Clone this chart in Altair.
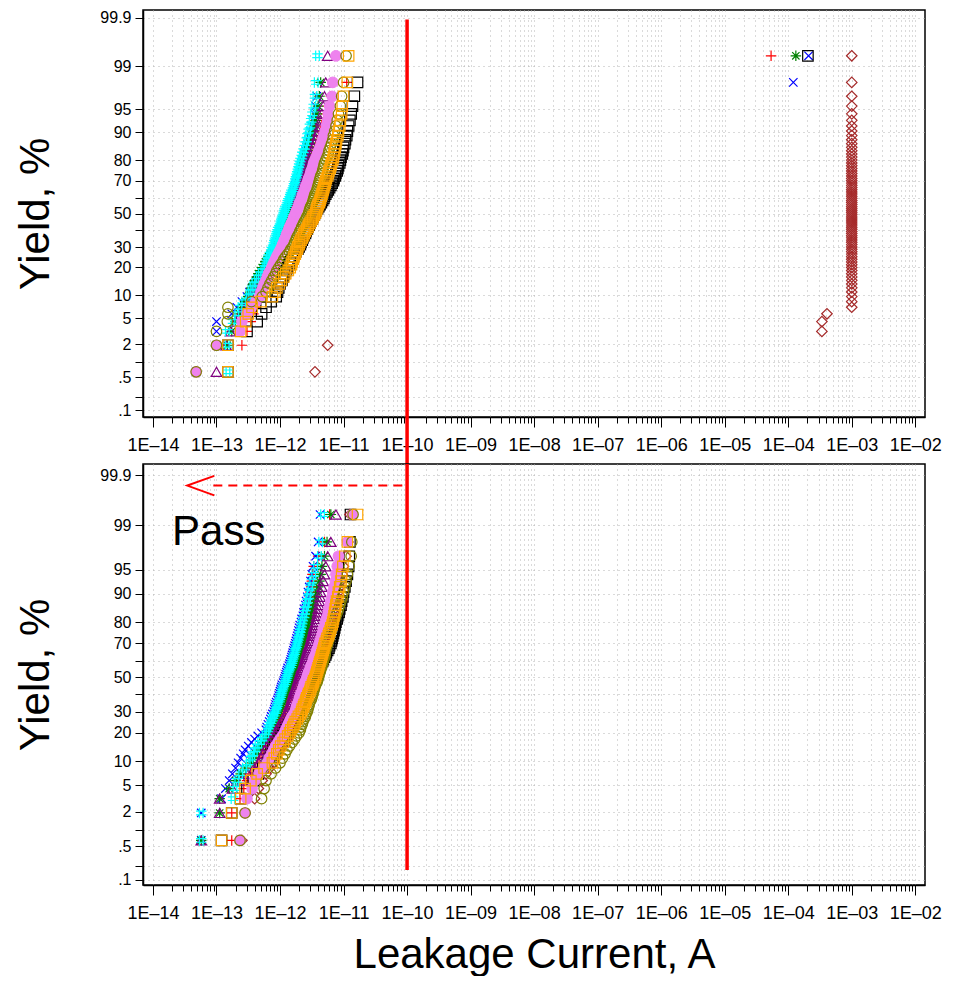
import altair as alt
import pandas as pd
from statistics import NormalDist

# ---------------- data: log10(leakage current, A), sorted per device group ----------------
# top panel
T_PLUS = [-13.32, -12.60, -12.52, -12.46, -12.42, -12.38, -12.34, -12.30,
          -12.27, -12.25, -12.22, -12.20, -12.17, -12.15, -12.12, -12.10,
          -12.08, -12.06, -12.04, -12.02, -12.01, -11.99, -11.97, -11.95,
          -11.94, -11.93, -11.92, -11.91, -11.90, -11.89, -11.88, -11.87, -11.87, -11.86, -11.85, -11.84, -11.83, -11.82, -11.81, -11.80,
          -11.79, -11.78, -11.76, -11.75, -11.74, -11.73, -11.72, -11.70, -11.69, -11.68, -11.67, -11.66, -11.64, -11.63, -11.62,
          -11.61, -11.60, -11.58, -11.57, -11.56, -11.55, -11.54, -11.52,
          -11.50, -11.48, -11.46, -11.44, -11.42, -11.40, -11.38, -11.36,
          -11.34, -11.31, -11.28, -11.25, -11.20, -10.95, -4.27]
T_X = [-13.32, -13.00, -13.00, -13.00, -12.76, -12.68, -12.60, -12.52,
       -12.48, -12.44, -12.40, -12.36, -12.32, -12.28, -12.24, -12.20,
       -12.18, -12.16, -12.15, -12.13, -12.11, -12.09, -12.08, -12.06,
       -12.05, -12.04, -12.03, -12.02, -12.01, -12.00, -11.99, -11.98, -11.97, -11.96, -11.95, -11.94, -11.93, -11.92, -11.91, -11.90,
       -11.89, -11.88, -11.87, -11.85, -11.84, -11.83, -11.82, -11.81, -11.80, -11.79, -11.78, -11.77, -11.76, -11.75, -11.73,
       -11.72, -11.71, -11.70, -11.69, -11.68, -11.67, -11.66, -11.64,
       -11.63, -11.61, -11.60, -11.58, -11.57, -11.55, -11.54, -11.52,
       -11.50, -11.48, -11.46, -11.44, -11.42, -3.92, -3.68]
T_STAR = [-13.32, -12.83, -12.76, -12.70, -12.64, -12.60, -12.55, -12.50,
          -12.47, -12.45, -12.42, -12.39, -12.36, -12.34, -12.31, -12.28,
          -12.25, -12.23, -12.20, -12.18, -12.15, -12.13, -12.10, -12.08,
          -12.07, -12.06, -12.04, -12.03, -12.02, -12.00, -11.99, -11.98, -11.97, -11.95, -11.94, -11.93, -11.92, -11.90, -11.89, -11.88,
          -11.87, -11.86, -11.84, -11.83, -11.82, -11.81, -11.80, -11.78, -11.77, -11.76, -11.75, -11.74, -11.72, -11.71, -11.70,
          -11.69, -11.68, -11.67, -11.66, -11.65, -11.64, -11.63, -11.62,
          -11.60, -11.58, -11.57, -11.55, -11.53, -11.51, -11.50, -11.48,
          -11.46, -11.44, -11.42, -11.40, -11.38, -11.36, -3.88]
T_SQUARE = [-12.82, -12.82, -12.52, -12.36, -12.29, -12.22, -12.14, -12.06,
            -12.04, -12.02, -12.00, -11.97, -11.95, -11.93, -11.90, -11.88,
            -11.86, -11.84, -11.81, -11.79, -11.77, -11.75, -11.72, -11.70,
            -11.68, -11.67, -11.65, -11.64, -11.62, -11.60, -11.59, -11.57, -11.56, -11.54, -11.53, -11.51, -11.49, -11.48, -11.46, -11.45,
            -11.43, -11.41, -11.39, -11.37, -11.35, -11.33, -11.31, -11.30, -11.28, -11.26, -11.24, -11.22, -11.20, -11.18, -11.16,
            -11.15, -11.13, -11.12, -11.10, -11.09, -11.08, -11.06, -11.05,
            -11.04, -11.02, -11.01, -11.00, -10.98, -10.97, -10.95, -10.94,
            -10.92, -10.90, -10.88, -10.86, -10.83, -10.78, -3.69]
T_DIAMOND = [-11.45, -11.25, -3.47, -3.47, -3.39,
             -3.00, -3.00, -3.00, -3.00, -3.00, -3.00, -3.00, -3.00, -3.00, -3.00,
             -3.00, -3.00, -3.00, -3.00, -3.00, -3.00, -3.00, -3.00, -3.00, -3.00,
             -3.00, -3.00, -3.00, -3.00, -3.00, -3.00, -3.00, -3.00, -3.00, -3.00,
             -3.00, -3.00, -3.00, -3.00, -3.00, -3.00, -3.00, -3.00, -3.00, -3.00,
             -3.00, -3.00, -3.00, -3.00, -3.00, -3.00, -3.00, -3.00, -3.00, -3.00,
             -3.00, -3.00, -3.00, -3.00, -3.00, -3.00, -3.00, -3.00, -3.00, -3.00,
             -3.00, -3.00, -3.00, -3.00, -3.00, -3.00, -3.00, -3.00, -3.00, -3.00,
             -3.00, -3.00, -3.00]
T_TRI = [-13.00, -12.85, -12.78, -12.70, -12.62, -12.56, -12.50, -12.45,
         -12.42, -12.39, -12.36, -12.33, -12.29, -12.26, -12.23, -12.20,
         -12.18, -12.16, -12.13, -12.11, -12.09, -12.07, -12.04, -12.02,
         -12.00, -11.99, -11.97, -11.96, -11.94, -11.93, -11.91, -11.90, -11.88, -11.87, -11.85, -11.84, -11.82, -11.81, -11.79, -11.78,
         -11.77, -11.76, -11.75, -11.74, -11.73, -11.72, -11.72, -11.71, -11.70, -11.69, -11.68, -11.67, -11.66, -11.65, -11.64,
         -11.63, -11.62, -11.61, -11.60, -11.59, -11.58, -11.57, -11.56,
         -11.54, -11.52, -11.50, -11.48, -11.46, -11.44, -11.42, -11.40,
         -11.38, -11.36, -11.34, -11.32, -11.30, -11.28, -11.25]
T_HASH = [-12.82, -12.83, -12.83, -12.74, -12.68, -12.63, -12.57, -12.50,
          -12.47, -12.44, -12.41, -12.37, -12.34, -12.31, -12.27, -12.24,
          -12.22, -12.21, -12.19, -12.18, -12.16, -12.14, -12.13, -12.11,
          -12.10, -12.09, -12.08, -12.07, -12.06, -12.05, -12.04, -12.03, -12.01, -12.00, -11.99, -11.98, -11.97, -11.96, -11.95, -11.94,
          -11.93, -11.92, -11.90, -11.89, -11.88, -11.87, -11.85, -11.84, -11.83, -11.82, -11.80, -11.79, -11.78, -11.77, -11.76,
          -11.75, -11.74, -11.73, -11.72, -11.71, -11.70, -11.69, -11.68,
          -11.66, -11.65, -11.63, -11.61, -11.60, -11.58, -11.57, -11.55,
          -11.53, -11.51, -11.49, -11.47, -11.45, -11.43, -11.41]
T_DOT = [-13.32, -13.00, -12.63, -12.60, -12.52, -12.45, -12.38, -12.32,
         -12.30, -12.27, -12.25, -12.22, -12.20, -12.18, -12.15, -12.13,
         -12.11, -12.09, -12.07, -12.05, -12.03, -12.01, -11.99, -11.97,
         -11.96, -11.94, -11.93, -11.91, -11.90, -11.89, -11.87, -11.86, -11.85, -11.83, -11.82, -11.80, -11.79, -11.78, -11.76, -11.75,
         -11.74, -11.72, -11.71, -11.70, -11.69, -11.67, -11.66, -11.65, -11.64, -11.62, -11.61, -11.60, -11.59, -11.57, -11.56,
         -11.55, -11.53, -11.52, -11.51, -11.49, -11.48, -11.47, -11.45,
         -11.43, -11.41, -11.39, -11.37, -11.35, -11.33, -11.31, -11.29,
         -11.27, -11.25, -11.24, -11.22, -11.18, -11.17, -11.12]
T_CIRCLE = [-13.32, -13.00, -13.00, -12.83, -12.82, -12.82, -12.45, -12.28,
            -12.22, -12.19, -12.16, -12.13, -12.10, -12.07, -12.05, -12.02,
            -11.99, -11.96, -11.94, -11.91, -11.88, -11.85, -11.83, -11.80,
            -11.78, -11.77, -11.75, -11.74, -11.72, -11.70, -11.69, -11.67, -11.66, -11.64, -11.63, -11.61, -11.59, -11.58, -11.56, -11.55,
            -11.54, -11.53, -11.52, -11.50, -11.49, -11.48, -11.47, -11.46, -11.45, -11.43, -11.42, -11.41, -11.40, -11.39, -11.38,
            -11.37, -11.36, -11.34, -11.33, -11.32, -11.31, -11.30, -11.28,
            -11.26, -11.24, -11.23, -11.21, -11.19, -11.17, -11.16, -11.14,
            -11.12, -11.10, -11.08, -11.05, -11.03, -11.00, -10.96]
T_SQUARE2 = [-12.82, -12.82, -12.62, -12.54, -12.50, -12.44, -12.30, -12.12,
             -12.08, -12.05, -12.01, -11.98, -11.94, -11.91, -11.87, -11.84,
             -11.82, -11.81, -11.79, -11.78, -11.76, -11.75, -11.73, -11.72,
             -11.70, -11.69, -11.67, -11.65, -11.63, -11.62, -11.60, -11.58, -11.56, -11.55, -11.53, -11.51, -11.49, -11.48, -11.46, -11.44,
             -11.43, -11.42, -11.41, -11.40, -11.38, -11.37, -11.36, -11.35, -11.34, -11.33, -11.32, -11.31, -11.30, -11.29, -11.28,
             -11.27, -11.25, -11.24, -11.23, -11.21, -11.20, -11.19, -11.17,
             -11.16, -11.15, -11.14, -11.13, -11.12, -11.11, -11.09, -11.08,
             -11.06, -11.05, -11.03, -11.02, -11.00, -10.94, -10.92]

# bottom panel
B_PLUS = [-12.76, -12.76, -12.63, -12.57, -12.52, -12.46, -12.41, -12.36,
          -12.33, -12.30, -12.27, -12.23, -12.20, -12.17, -12.13, -12.10,
          -12.08, -12.06, -12.03, -12.01, -11.99, -11.97, -11.94, -11.92,
          -11.91, -11.90, -11.89, -11.88, -11.87, -11.87, -11.86, -11.85, -11.84, -11.83, -11.82, -11.82, -11.81, -11.80, -11.79, -11.78,
          -11.77, -11.76, -11.75, -11.74, -11.73, -11.72, -11.72, -11.71, -11.70, -11.69, -11.68, -11.67, -11.66, -11.65, -11.64,
          -11.63, -11.62, -11.62, -11.61, -11.60, -11.60, -11.59, -11.58,
          -11.57, -11.57, -11.56, -11.55, -11.55, -11.54, -11.53, -11.52,
          -11.51, -11.50, -11.49, -11.47, -11.40, -11.30, -11.22]
B_X = [-13.24, -13.24, -12.92, -12.86, -12.80, -12.75, -12.70, -12.66,
       -12.62, -12.58, -12.55, -12.50, -12.45, -12.40, -12.35, -12.29,
       -12.22, -12.21, -12.19, -12.17, -12.15, -12.14, -12.12, -12.10,
       -12.09, -12.08, -12.07, -12.06, -12.04, -12.03, -12.02, -12.01, -12.00, -11.99, -11.98, -11.97, -11.95, -11.94, -11.93, -11.92,
       -11.91, -11.90, -11.89, -11.88, -11.86, -11.85, -11.84, -11.83, -11.82, -11.81, -11.80, -11.79, -11.78, -11.77, -11.76,
       -11.75, -11.74, -11.73, -11.72, -11.71, -11.70, -11.69, -11.67,
       -11.66, -11.64, -11.63, -11.62, -11.60, -11.59, -11.57, -11.56,
       -11.54, -11.52, -11.50, -11.48, -11.44, -11.40, -11.37]
B_STAR = [-13.24, -12.95, -12.95, -12.80, -12.70, -12.62, -12.54, -12.46,
          -12.42, -12.38, -12.34, -12.30, -12.27, -12.23, -12.19, -12.15,
          -12.13, -12.11, -12.09, -12.08, -12.06, -12.04, -12.02, -12.00,
          -11.99, -11.97, -11.96, -11.95, -11.94, -11.92, -11.91, -11.90, -11.89, -11.87, -11.86, -11.85, -11.84, -11.82, -11.81, -11.80,
          -11.79, -11.78, -11.77, -11.76, -11.74, -11.73, -11.72, -11.71, -11.70, -11.69, -11.68, -11.67, -11.66, -11.65, -11.63,
          -11.62, -11.61, -11.60, -11.59, -11.58, -11.57, -11.56, -11.55,
          -11.53, -11.52, -11.50, -11.49, -11.47, -11.45, -11.44, -11.42,
          -11.40, -11.38, -11.36, -11.34, -11.30, -11.26, -11.20]
B_SQUARE = [-12.92, -12.76, -12.62, -12.52, -12.42, -12.34, -12.27, -12.20,
            -12.17, -12.14, -12.11, -12.08, -12.04, -12.01, -11.98, -11.95,
            -11.92, -11.90, -11.87, -11.85, -11.82, -11.80, -11.77, -11.75,
            -11.73, -11.71, -11.69, -11.68, -11.66, -11.64, -11.62, -11.60, -11.58, -11.56, -11.54, -11.53, -11.51, -11.49, -11.47, -11.45,
            -11.43, -11.42, -11.40, -11.38, -11.37, -11.35, -11.33, -11.32, -11.30, -11.28, -11.27, -11.25, -11.23, -11.22, -11.20,
            -11.19, -11.18, -11.17, -11.16, -11.15, -11.14, -11.13, -11.12,
            -11.10, -11.09, -11.07, -11.06, -11.04, -11.03, -11.01, -11.00,
            -10.98, -10.96, -10.94, -10.92, -10.91, -10.90, -10.89]
B_DIAMOND = [-12.60, -12.55, -12.40, -12.34, -12.28, -12.22, -12.16, -12.10,
             -12.07, -12.03, -12.00, -11.96, -11.93, -11.89, -11.86, -11.82,
             -11.80, -11.78, -11.76, -11.74, -11.72, -11.70, -11.68, -11.66,
             -11.65, -11.64, -11.63, -11.61, -11.60, -11.59, -11.58, -11.57, -11.56, -11.55, -11.53, -11.52, -11.51, -11.50, -11.49, -11.48,
             -11.47, -11.46, -11.44, -11.43, -11.42, -11.41, -11.40, -11.38, -11.37, -11.36, -11.35, -11.34, -11.32, -11.31, -11.30,
             -11.29, -11.28, -11.27, -11.25, -11.24, -11.23, -11.22, -11.20,
             -11.19, -11.17, -11.16, -11.14, -11.13, -11.11, -11.10, -11.08,
             -11.06, -11.04, -11.02, -11.00, -10.96, -10.93, -10.90]
B_TRI = [-13.24, -12.95, -12.95, -12.75, -12.60, -12.50, -12.41, -12.33,
         -12.30, -12.27, -12.24, -12.21, -12.17, -12.14, -12.11, -12.08,
         -12.05, -12.03, -12.00, -11.98, -11.95, -11.93, -11.90, -11.88,
         -11.87, -11.86, -11.85, -11.83, -11.82, -11.81, -11.80, -11.79, -11.78, -11.77, -11.75, -11.74, -11.73, -11.72, -11.71, -11.70,
         -11.69, -11.68, -11.67, -11.66, -11.64, -11.63, -11.62, -11.61, -11.60, -11.59, -11.58, -11.57, -11.56, -11.55, -11.53,
         -11.52, -11.51, -11.50, -11.49, -11.48, -11.47, -11.46, -11.44,
         -11.43, -11.42, -11.41, -11.40, -11.39, -11.38, -11.37, -11.36,
         -11.34, -11.32, -11.30, -11.28, -11.25, -11.20, -11.12]
B_HASH = [-13.24, -13.24, -12.74, -12.71, -12.68, -12.62, -12.56, -12.50,
          -12.46, -12.43, -12.39, -12.36, -12.32, -12.28, -12.25, -12.21,
          -12.19, -12.18, -12.16, -12.14, -12.12, -12.11, -12.09, -12.07,
          -12.06, -12.05, -12.04, -12.03, -12.01, -12.00, -11.99, -11.98, -11.97, -11.96, -11.95, -11.94, -11.92, -11.91, -11.90, -11.89,
          -11.88, -11.87, -11.86, -11.85, -11.83, -11.82, -11.81, -11.80, -11.79, -11.78, -11.77, -11.76, -11.75, -11.74, -11.73,
          -11.72, -11.71, -11.70, -11.69, -11.68, -11.67, -11.66, -11.65,
          -11.64, -11.62, -11.61, -11.60, -11.58, -11.57, -11.55, -11.54,
          -11.52, -11.50, -11.47, -11.44, -11.38, -11.36, -11.33]
B_DOT = [-12.63, -12.55, -12.52, -12.44, -12.40, -12.33, -12.26, -12.20,
         -12.17, -12.13, -12.10, -12.07, -12.03, -12.00, -11.96, -11.93,
         -11.91, -11.89, -11.87, -11.85, -11.83, -11.81, -11.78, -11.76,
         -11.75, -11.74, -11.73, -11.71, -11.70, -11.69, -11.68, -11.67, -11.65, -11.64, -11.63, -11.62, -11.61, -11.59, -11.58, -11.57,
         -11.56, -11.55, -11.53, -11.52, -11.51, -11.49, -11.48, -11.47, -11.46, -11.44, -11.43, -11.42, -11.40, -11.39, -11.38,
         -11.37, -11.35, -11.34, -11.33, -11.32, -11.31, -11.29, -11.28,
         -11.27, -11.25, -11.24, -11.23, -11.21, -11.20, -11.18, -11.17,
         -11.15, -11.13, -11.12, -11.10, -11.08, -10.94, -10.86]
B_CIRCLE = [-12.63, -12.55, -12.29, -12.25, -12.22, -12.14, -12.07, -12.00,
            -11.96, -11.92, -11.89, -11.85, -11.81, -11.77, -11.74, -11.70,
            -11.68, -11.67, -11.65, -11.64, -11.62, -11.60, -11.59, -11.57,
            -11.56, -11.55, -11.54, -11.53, -11.51, -11.50, -11.49, -11.48, -11.47, -11.46, -11.45, -11.44, -11.42, -11.41, -11.40, -11.39,
            -11.38, -11.37, -11.36, -11.35, -11.34, -11.33, -11.32, -11.31, -11.30, -11.29, -11.29, -11.28, -11.27, -11.26, -11.25,
            -11.24, -11.23, -11.22, -11.21, -11.20, -11.19, -11.17, -11.16,
            -11.14, -11.12, -11.10, -11.08, -11.06, -11.04, -11.02, -11.00,
            -10.98, -10.96, -10.94, -10.91, -10.88, -10.87, -10.85]
B_SQUARE2 = [-12.92, -12.76, -12.62, -12.55, -12.46, -12.36, -12.25, -12.12,
             -12.09, -12.05, -12.02, -11.99, -11.95, -11.92, -11.88, -11.85,
             -11.83, -11.80, -11.78, -11.76, -11.73, -11.71, -11.68, -11.66,
             -11.65, -11.63, -11.62, -11.60, -11.59, -11.58, -11.56, -11.55, -11.53, -11.52, -11.51, -11.49, -11.48, -11.47, -11.45, -11.44,
             -11.43, -11.42, -11.41, -11.40, -11.39, -11.38, -11.37, -11.36, -11.35, -11.34, -11.33, -11.32, -11.31, -11.30, -11.29,
             -11.27, -11.26, -11.24, -11.23, -11.21, -11.20, -11.18, -11.17,
             -11.16, -11.15, -11.14, -11.13, -11.12, -11.11, -11.09, -11.08,
             -11.06, -11.04, -11.03, -11.01, -10.98, -10.94, -10.78]

SERIES = ["plus", "x", "star", "square", "diamond", "triangle", "hash", "dot", "circle", "square2"]
TOP = [T_PLUS, T_X, T_STAR, T_SQUARE, T_DIAMOND, T_TRI, T_HASH, T_DOT, T_CIRCLE, T_SQUARE2]
BOTTOM = [B_PLUS, B_X, B_STAR, B_SQUARE, B_DIAMOND, B_TRI, B_HASH, B_DOT, B_CIRCLE, B_SQUARE2]

PROBS = [0.1, 0.2, 0.5, 1, 2, 5, 10, 20, 30, 40, 50, 60, 70, 80, 90, 95, 99, 99.9]
PLABELS = [".1", "", ".5", "", "2", "5", "10", "20", "30", "", "50", "", "70", "80", "90", "95", "99", "99.9"]
LIMIT = 1e-10          # pass/fail limit (A)

# ---------------- styles ----------------
COLORS = ["#ff0000", "#0000ff", "#008000", "#000000", "#a52a2a",
          "#800080", "#00ffff", "#ee82ee", "#808000", "#ffa500"]
PLUS = "M-1,0L1,0M0,-1L0,1"
XSYM = "M-0.8,-0.8L0.8,0.8M-0.8,0.8L0.8,-0.8"
STAR = "M-1,0L1,0M0,-1L0,1M-0.7,-0.7L0.7,0.7M-0.7,0.7L0.7,-0.7"
HASH = "M-1,-0.35L1,-0.35M-1,0.35L1,0.35M-0.35,-1L-0.35,1M0.35,-1L0.35,1"
SHAPES = [PLUS, XSYM, STAR, "square", "diamond", "triangle-up", HASH, "circle", "circle", "square"]
FILLS = ["transparent", "transparent", "transparent", "transparent", "transparent",
         "transparent", "transparent", "#ee82ee", "transparent", "transparent"]
FONT = "Liberation Sans"
GRID = "#b4b4b4"

nd = NormalDist()


def frame(lists):
    rows = []
    for name, vals in zip(SERIES, lists):
        n = len(vals)
        for i, v in enumerate(vals):
            rows.append({"series": name, "current": 10 ** v, "z": nd.inv_cdf((i + 0.5) / n)})
    return pd.DataFrame(rows)


ZTICKS = [nd.inv_cdf(p / 100) for p in PROBS]
yexpr = "''"
for zt, lab in zip(ZTICKS, PLABELS):
    yexpr = f"abs(datum.value - ({zt:.5f})) < 0.002 ? '{lab}' : " + yexpr

DECADES = [10.0 ** e for e in range(-14, -1)]
MINOR = [k * 10.0 ** e for e in range(-14, -2) for k in range(1, 10)] + [1e-2]
xexpr = ("'1E\u2013' + (round(-log(datum.value)/LN10) < 10 ? '0' : '') + "
         "round(-log(datum.value)/LN10)")

xscale = alt.Scale(type="log", domain=[10 ** -14.157, 10 ** -1.847], nice=False)

W = 782
GAP = 47


def yaxis(pad):
    return alt.Axis(values=ZTICKS, labelExpr=yexpr, tickSize=8, tickColor="black",
                    grid=True, gridColor=GRID, gridDash=[1, 4], domainColor="black",
                    domainWidth=1.5, labelFont=FONT, labelFontSize=16, labelPadding=4,
                    labelColor="black", title="Yield, %", titleFont=FONT,
                    titleFontSize=42, titleFontWeight="normal", titleColor="black",
                    titlePadding=pad)


axis_minor = alt.Axis(values=MINOR, labels=False, tickSize=6, tickColor="black",
                      domain=False, grid=True, gridColor=GRID, gridDash=[1, 4],
                      title=None, orient="bottom")


def axis_major(title):
    kw = dict(values=DECADES, labelExpr=xexpr, tickSize=10, tickColor="black",
              grid=False, domainColor="black", domainWidth=1.5, labelFont=FONT,
              labelFontSize=18, labelPadding=9, labelColor="black", orient="bottom",
              labelFlush=False, labelOverlap=False)
    if title:
        kw.update(title=title, titleFont=FONT, titleFontSize=42,
                  titleFontWeight="normal", titleColor="black", titlePadding=12)
    else:
        kw.update(title=None)
    return alt.Axis(**kw)


def points(df, yscale, yax):
    return alt.Chart(df).mark_point(filled=False, size=110, strokeWidth=1.2, opacity=1).encode(
        x=alt.X("current:Q", scale=xscale, axis=axis_minor),
        y=alt.Y("z:Q", scale=yscale, axis=yax),
        color=alt.Color("series:N", scale=alt.Scale(domain=SERIES, range=COLORS), legend=None),
        shape=alt.Shape("series:N", scale=alt.Scale(domain=SERIES, range=SHAPES), legend=None),
        fill=alt.Fill("series:N", scale=alt.Scale(domain=SERIES, range=FILLS), legend=None),
    )


# ---------------- top panel ----------------
H_TOP = 407
ys_top = alt.Scale(domain=[-3.2, 3.21], nice=False, zero=False)
ya_top = yaxis(42)
top_pts = points(frame(TOP), ys_top, ya_top)
top_rule = alt.Chart(pd.DataFrame({"current": [LIMIT], "z": [3.06]})).mark_rule(
    color="#ff0000", strokeWidth=3.5).encode(
    x=alt.X("current:Q", scale=xscale, axis=axis_major(None)),
    y=alt.Y("z:Q", scale=ys_top, axis=ya_top),
    y2=alt.value(H_TOP + GAP),
)
top = alt.layer(top_pts, top_rule).resolve_axis(x="independent").properties(width=W, height=H_TOP)

# ---------------- bottom panel ----------------
H_BOT = 421
ys_bot = alt.Scale(domain=[-3.17, 3.26], nice=False, zero=False)
ya_bot = yaxis(42)
bot_pts = points(frame(BOTTOM), ys_bot, ya_bot)
bot_rule = alt.Chart(pd.DataFrame({"current": [LIMIT], "z": [-2.94]})).mark_rule(
    color="#ff0000", strokeWidth=3.5).encode(
    x=alt.X("current:Q", scale=xscale, axis=axis_major("Leakage Current, A")),
    y=alt.Y("z:Q", scale=ys_bot, axis=ya_bot),
    y2=alt.value(0),
)
arrow_df = pd.DataFrame({"x1": [10 ** -13.05], "x2": [LIMIT], "tip": [10 ** -13.46], "z": [2.93]})
dash = alt.Chart(arrow_df).mark_rule(color="#ff0000", strokeWidth=2, strokeDash=[9, 6]).encode(
    x=alt.X("x1:Q", scale=xscale, axis=None),
    x2="x2:Q",
    y=alt.Y("z:Q", scale=ys_bot, axis=ya_bot),
)
head = alt.Chart(arrow_df).mark_point(shape="M1,-0.36L0,0L1,0.36", size=2916, filled=False,
                                      strokeWidth=2, color="#ff0000", opacity=1).encode(
    x=alt.X("tip:Q", scale=xscale, axis=None),
    y=alt.Y("z:Q", scale=ys_bot, axis=ya_bot),
)
pass_df = pd.DataFrame({"current": [10 ** -13.70], "z": [2.02], "label": ["Pass"]})
pass_text = alt.Chart(pass_df).mark_text(align="left", baseline="alphabetic", fontSize=42,
                                         font=FONT, color="black").encode(
    x=alt.X("current:Q", scale=xscale, axis=None),
    y=alt.Y("z:Q", scale=ys_bot, axis=ya_bot),
    text="label:N",
)
bottom = alt.layer(bot_pts, bot_rule, dash, head, pass_text).resolve_axis(
    x="independent").properties(width=W, height=H_BOT)

chart = alt.vconcat(top, bottom, spacing=GAP, bounds="flush").properties(
    padding={"left": 14, "top": 8, "right": 5, "bottom": 0}
).configure_view(stroke="black", strokeWidth=1.5)

chart.save("out.html", embed_options={"renderer": "svg", "actions": False})
